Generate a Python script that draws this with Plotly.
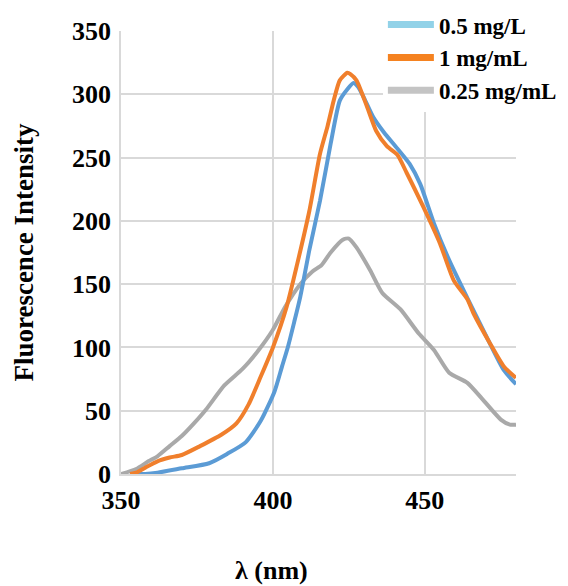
import plotly.graph_objects as go

# emission spectra
wl_025 = [350, 355, 359, 362, 366, 370, 374, 378, 384, 390, 395, 400, 404, 409, 413, 416,
          419, 423, 425, 427.5, 432, 436, 442, 448, 453, 458, 464, 469, 475, 478, 480]
fi_025 = [0, 4, 10, 14, 22, 30, 40, 51, 70, 83, 97, 114, 132, 150, 160, 165,
          175, 185, 186, 179, 161, 143, 130, 111, 98, 80, 72, 59, 43, 39, 39]

wl_05 = [353, 358, 362, 370, 379, 385, 391, 396, 400.5, 403, 405, 407, 409, 412, 415.5, 419, 422,
         424.5, 426.5, 428, 430, 433, 436.5, 441, 445, 448.5, 453, 458, 464, 470, 476, 480]
fi_05 = [0, 0, 1, 4.5, 8.5, 16, 25, 42, 65, 85, 101, 120, 140, 177, 216, 261, 295,
         304, 309, 306, 297, 282, 270, 257, 245, 229, 198, 169, 139, 110, 82, 71]

wl_1 = [353, 355, 358, 362, 366, 370, 376, 383, 388, 392, 396, 400, 404.5, 408, 412, 415.5, 418,
        420, 422, 424.5, 425.5, 427.5, 431, 434, 437.5, 441, 444, 449.5, 455, 459.5, 464, 466,
        471.5, 476, 480]
fi_1 = [0, 1, 5, 10, 13, 15, 22, 31, 40, 55, 77, 100, 132, 166, 208, 253, 275,
        295, 311, 317, 316, 311, 290, 271, 259, 252, 238, 211, 182, 153, 138, 127,
        103, 85, 76]

names = ["0.5 mg/L", "1 mg/mL", "0.25 mg/mL"]
curve_colors = ["#5B9BD5", "#F07F2C", "#A9A9A9"]
legend_colors = ["#92D2E8", "#F58220", "#C4C4C4"]

FONT = "Liberation Serif"

fig = go.Figure()

# curves (gray underneath, orange on top)
fig.add_trace(go.Scatter(x=wl_025, y=fi_025, mode="lines", showlegend=False,
                         line=dict(color=curve_colors[2], width=4, shape="spline", smoothing=0.6)))
fig.add_trace(go.Scatter(x=wl_05, y=fi_05, mode="lines", showlegend=False,
                         line=dict(color=curve_colors[0], width=4, shape="spline", smoothing=0.6)))
fig.add_trace(go.Scatter(x=wl_1, y=fi_1, mode="lines", showlegend=False,
                         line=dict(color=curve_colors[1], width=4, shape="spline", smoothing=0.6)))

# legend entries use the lighter swatch colours seen in the original
for i, name in enumerate(names):
    fig.add_trace(go.Scatter(x=[None], y=[None], mode="lines", name=name,
                             legendgroup=name,
                             line=dict(color=legend_colors[i], width=7)))

# page body has an 8px margin, so the figure is a bit smaller than the window
fig.update_layout(
    width=560, height=578,
    margin=dict(l=113, r=52, t=23, b=112, autoexpand=False),
    paper_bgcolor="white", plot_bgcolor="white",
    font=dict(family=FONT, color="black"),
    legend=dict(x=0.663, y=1.063, xanchor="left", yanchor="top",
                bgcolor="white", itemwidth=46, tracegroupgap=0,
                font=dict(family=FONT, size=23, color="black", weight="bold")),
    xaxis=dict(range=[350, 480], tickvals=[350, 400, 450], automargin=False,
               showgrid=True, gridcolor="#D9D9D9", gridwidth=1.5,
               showline=True, linecolor="#D9D9D9", linewidth=1.5,
               zeroline=False, ticks="", ticklabelstandoff=2,
               tickfont=dict(family=FONT, size=26, weight="bold")),
    yaxis=dict(range=[0, 350], dtick=50, automargin=False,
               showgrid=True, gridcolor="#D9D9D9", gridwidth=1.5,
               showline=True, linecolor="#D9D9D9", linewidth=1.5,
               zeroline=False, ticks="", ticklabelstandoff=3,
               tickfont=dict(family=FONT, size=26, weight="bold"),
               title=dict(text="Fluorescence Intensity", standoff=31,
                          font=dict(family=FONT, size=27, weight="bold"))),
    annotations=[dict(text="λ (nm)", xref="paper", yref="paper", x=0.382, y=-0.218,
                      xanchor="center", yanchor="middle", showarrow=False,
                      font=dict(family=FONT, size=26, weight="bold", color="black"))],
)

fig.write_html("out.html")
